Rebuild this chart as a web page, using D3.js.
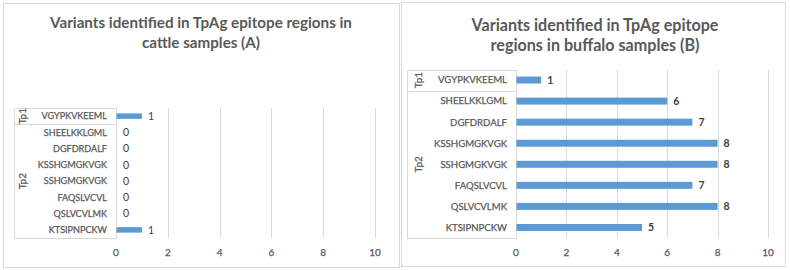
<!DOCTYPE html>
<html lang="en">
<head>
<meta charset="utf-8">
<title>TpAg epitope variants</title>
<style>
html,body{margin:0;padding:0;background:#fff;}
svg{display:block;font-family:Lato,"Open Sans",sans-serif;}
.frame{fill:#fff;stroke:#d9d9d9;stroke-width:1;}
.grid line{stroke:#d9d9d9;stroke-width:1;shape-rendering:crispEdges;}
.box{stroke:#d9d9d9;stroke-width:1;shape-rendering:crispEdges;}
.title{font-weight:700;fill:#595959;}
.cat,.tick,.grp{fill:#595959;font-size:10px;stroke:#595959;stroke-width:0.25px;}
.val{fill:#404040;font-size:10.5px;}
.bar{fill:#5b9bd5;}
</style>
</head>
<body>
<svg id="chart" width="790" height="270"></svg>
<script src="https://cdn.jsdelivr.net/npm/d3@7"></script>
<script>
// ---- data ----
const epitopes = ['VGYPKVKEEML','SHEELKKLGML','DGFDRDALF','KSSHGMGKVGK',
                  'SSHGMGKVGK','FAQSLVCVL','QSLVCVLMK','KTSIPNPCKW'];
const groups = [{name:'Tp1', from:0, to:0}, {name:'Tp2', from:1, to:7}];
const cattleVariants  = [1,0,0,0,0,0,0,1];
const buffaloVariants = [1,6,7,8,8,7,8,5];
const xTicks = [0,2,4,6,8,10];
const cattleTitle  = ['Variants identified in TpAg epitope regions in','cattle samples (A)'];
const buffaloTitle = ['Variants identified in TpAg epitope','regions in buffalo samples (B)'];

// ---- layout of the two panels ----
const panels = [
  {values:cattleVariants, title:cattleTitle, frame:[3,3,399,267],
   plot:{left:116,right:375,top:108,bottom:238}, boxLeft:14, grpX:22,
   titleCx:201, titleY:[23,43], titleW:302, catW:65.5, barFrac:0.34, valBold:false},
  {values:buffaloVariants, title:buffaloTitle, frame:[401,2,785,266],
   plot:{left:516,right:768,top:69.5,bottom:238}, boxLeft:407, grpX:418,
   titleCx:595, titleY:[25,45], titleW:247, catW:69, barFrac:0.33, valBold:true}
];

const svg = d3.select('#chart');

// scale a group of texts so the first one is `target` px wide
function fitWidth(sel, target, base){
  sel.style('font-size', base+'px');
  const w = sel.node().getComputedTextLength();
  sel.style('font-size', (base*target/w)+'px');
}

panels.forEach(p=>{
  const g = svg.append('g');
  const [x0,y0,x1,y1] = p.frame;
  g.append('rect').attr('class','frame')
    .attr('x',x0+0.5).attr('y',y0+0.5).attr('width',x1-x0).attr('height',y1-y0);

  /* title, sized to the reference width */
  const tl = g.selectAll('text.title').data(p.title).join('text').attr('class','title')
    .attr('x',p.titleCx).attr('y',(d,i)=>p.titleY[i]).attr('dy','.35em')
    .attr('text-anchor','middle').text(d=>d);
  fitWidth(tl, p.titleW, 15);

  const x = d3.scaleLinear().domain([0,10]).range([p.plot.left,p.plot.right]);
  const y = d3.scaleBand().domain(epitopes).range([p.plot.top,p.plot.bottom]);

  /* vertical gridlines */
  g.append('g').attr('class','grid').selectAll('line')
    .data(xTicks.slice(1)).join('line')
    .attr('x1',d=>Math.round(x(d))+0.5).attr('x2',d=>Math.round(x(d))+0.5)
    .attr('y1',p.plot.top).attr('y2',p.plot.bottom);

  /* x tick labels */
  g.selectAll('text.tick').data(xTicks).join('text').attr('class','tick')
    .attr('x',d=>x(d)).attr('y',252).attr('dy','.35em')
    .attr('text-anchor','middle').text(d=>d);

  /* multi-level category box */
  const edge = v=>Math.round(v)+0.5;
  const bx = edge(p.boxLeft), ax = edge(x(0));
  const hl = [p.plot.top, ...groups.slice(1).map(gr=>y(epitopes[gr.from])), p.plot.bottom];
  hl.forEach(v=>g.append('line').attr('class','box')
    .attr('x1',bx).attr('x2',ax).attr('y1',edge(v)).attr('y2',edge(v)));
  [bx,ax].forEach(v=>g.append('line').attr('class','box')
    .attr('x1',v).attr('x2',v).attr('y1',edge(p.plot.top)).attr('y2',edge(p.plot.bottom)));

  groups.forEach(gr=>{
    const cy = (y(epitopes[gr.from]) + y(epitopes[gr.to]) + y.bandwidth())/2;
    g.append('text').attr('class','grp')
      .attr('transform',`translate(${p.grpX},${cy}) rotate(-90)`)
      .attr('dy','.35em').attr('text-anchor','middle').text(gr.name);
  });

  /* category labels */
  const cats = g.selectAll('text.cat').data(epitopes).join('text').attr('class','cat')
    .attr('x',x(0)-9).attr('y',d=>y(d)+y.bandwidth()/2).attr('dy','.35em')
    .attr('text-anchor','end').text(d=>d);
  fitWidth(cats, p.catW, 10);

  /* bars */
  const bh = y.bandwidth()*p.barFrac;
  g.selectAll('rect.bar').data(p.values).join('rect').attr('class','bar')
    .attr('x',x(0)+0.5).attr('y',(d,i)=>y(epitopes[i])+(y.bandwidth()-bh)/2)
    .attr('width',d=>Math.max(0,x(d)-x(0)-0.5)).attr('height',bh);

  /* value labels */
  g.selectAll('text.val').data(p.values).join('text').attr('class','val')
    .attr('x',d=>x(d)+(d>0?6:7)).attr('y',(d,i)=>y(epitopes[i])+y.bandwidth()/2)
    .attr('dy','.35em').style('font-weight',p.valBold?700:400).text(d=>d);
});
</script>
</body>
</html>
